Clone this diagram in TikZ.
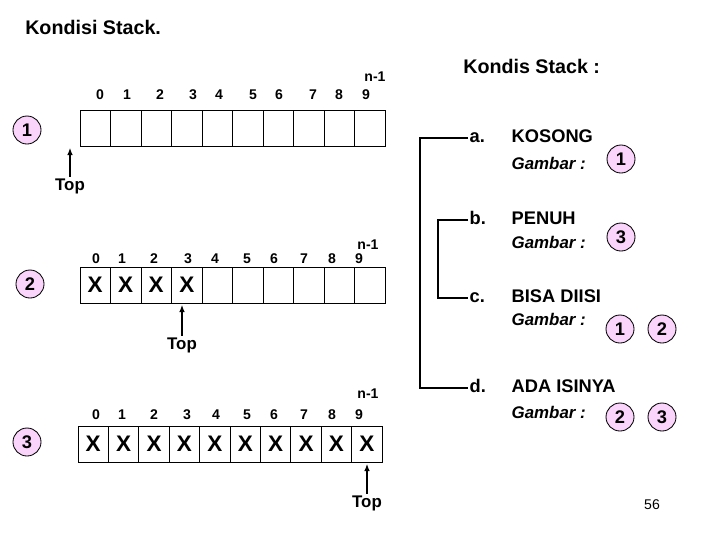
\documentclass[tikz,border=0pt]{standalone}
\usepackage{fontspec}
\setmainfont{Liberation Sans}
\usepackage{tikz}
\usetikzlibrary{arrows.meta, positioning}

\definecolor{bulletpink}{RGB}{250,212,250}

\tikzset{
    cell/.style={draw, minimum width=0.7625cm, minimum height=0.9cm, inner sep=0pt, line width=0.6pt, font=\fontsize{16}{18}\selectfont\bfseries},
    idx/.style={font=\fontsize{10}{12}\selectfont\bfseries, inner sep=0pt},
    nlabel/.style={font=\fontsize{10}{12}\selectfont\bfseries, inner sep=0pt},
    badge/.style={circle, draw, line width=0.6pt, fill=bulletpink, minimum size=0.7cm, inner sep=0pt, font=\fontsize{13}{15}\selectfont\bfseries},
    toplbl/.style={font=\fontsize{12}{14}\selectfont\bfseries, inner sep=1pt},
    toparrow/.style={-{Latex[length=5pt,width=4pt]}, line width=0.8pt},
    item/.style={anchor=west, font=\fontsize{13}{15}\selectfont\bfseries, inner sep=1pt, text height=6.5pt, text depth=0pt},
    gambar/.style={anchor=west, font=\fontsize{12}{14}\selectfont\bfseries\itshape, inner sep=1pt}
}

\begin{document}
\begin{tikzpicture}[x=0.025cm, y=-0.025cm]
    \useasboundingbox (0,0) rectangle (720,540);

    % title
    \node[anchor=west, inner sep=0pt, font=\fontsize{14}{16}\selectfont\bfseries] (title) at (25,27) {Kondisi Stack.};

    % Stack 1 (kosong)
    \node[badge] (s1) at (27,130) {1};
    \foreach \x [count=\i from 0] in {100,127,160,193,219,253,279,313,339,366}
        \node[idx] (p1\i) at (\x,95) {\i};
    \node[nlabel] (n1) at (375,77) {n-1};
    \foreach \i in {0,...,9}
        \node[cell] (a1c\i) at (95.25+30.5*\i,128) {};
    \node[toplbl] (top1) at (70,186) {Top};
    \coordinate (t1) at (70,148);
    \draw[toparrow] (top1) -- (t1);

    % Stack 2 (bisa diisi / ada isinya)
    \node[badge] (s2) at (30,284) {2};
    \foreach \x [count=\i from 0] in {96,122,154,188,215,247,274,304,332,359}
        \node[idx] (p2\i) at (\x,259) {\i};
    \node[nlabel] (n2) at (368,245) {n-1};
    \foreach \i in {0,...,3}
        \node[cell] (a2c\i) at (95.25+30.5*\i,285) {X};
    \foreach \i in {4,...,9}
        \node[cell] (a2c\i) at (95.25+30.5*\i,285) {};
    \node[toplbl] (top2) at (182,345) {Top};
    \coordinate (t2) at (182,305);
    \draw[toparrow] (top2) -- (t2);

    % Stack 3 (penuh)
    \node[badge] (s3) at (27,442) {3};
    \foreach \x [count=\i from 0] in {96,122,154,187,216,247,274,304,332,359}
        \node[idx] (p3\i) at (\x,415) {\i};
    \node[nlabel] (n3) at (368,394) {n-1};
    \foreach \i in {0,...,9}
        \node[cell] (a3c\i) at (93.25+30.4*\i,444) {X};
    \node[toplbl] (top3) at (367,503) {Top};
    \coordinate (t3) at (367,464);
    \draw[toparrow] (top3) -- (t3);

    % Kondisi list
    \node[anchor=west, inner sep=0pt, font=\fontsize{14}{16}\selectfont\bfseries] (head) at (463,66) {Kondis Stack :};

    \node[item] (la) at (468,138) {a.};
    \node[item] (ta) at (510,138) {KOSONG};
    \node[gambar] (ga) at (510,163) {Gambar :};
    \node[badge] (ca1) at (621,159) {1};

    \node[item] (lb) at (468,220) {b.};
    \node[item] (tb) at (510,220) {PENUH};
    \node[gambar] (gb) at (510,242) {Gambar :};
    \node[badge] (cb1) at (621,237) {3};

    \node[item] (lc) at (468,298) {c.};
    \node[item] (tc) at (510,298) {BISA DIISI};
    \node[gambar] (gc) at (510,319) {Gambar :};
    \node[badge] (cc1) at (620,329) {1};
    \node[badge] (cc2) at (662,329) {2};

    \node[item] (ld) at (468,388) {d.};
    \node[item] (td) at (510,388) {ADA ISINYA};
    \node[gambar] (gd) at (510,412) {Gambar :};
    \node[badge] (cd1) at (620,417) {2};
    \node[badge] (cd2) at (662,417) {3};

    % brackets
    \coordinate (brA) at (420,138);
    \coordinate (brB) at (438,220);
    \draw[line width=0.8pt] (la.west) -| (brA) |- (ld.west);
    \draw[line width=0.8pt] (lb.west) -| (brB) |- (lc.west);

    % page number
    \node[font=\fontsize{10}{12}\selectfont] (page) at (652,505) {56};
\end{tikzpicture}
\end{document}
